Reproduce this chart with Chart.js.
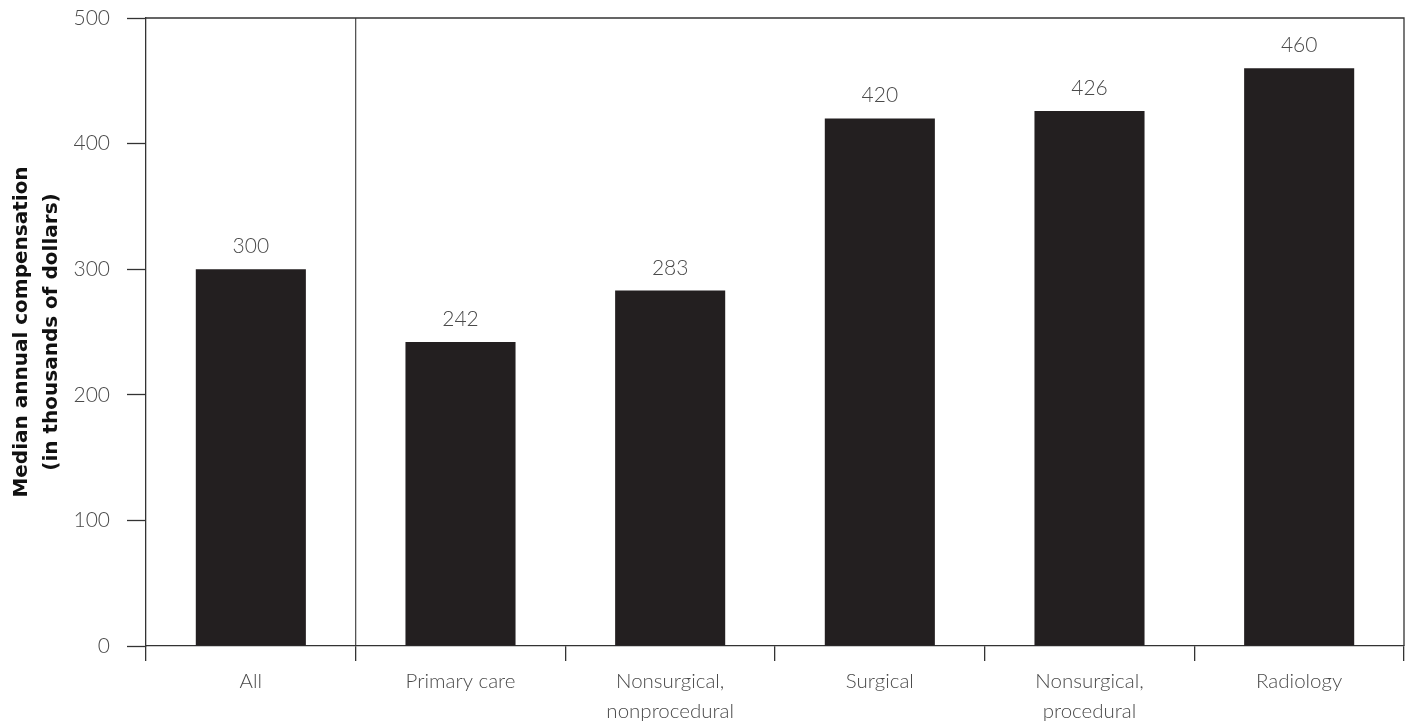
<!DOCTYPE html>
<html>
<head>
<meta charset="utf-8">
<script src="https://cdn.jsdelivr.net/npm/chart.js@4/dist/chart.umd.min.js"></script>
<style>
html,body{margin:0;padding:0;background:#fff;}
#wrap{width:1409px;height:723px;position:relative;}
</style>
</head>
<body>
<div id="wrap"><canvas id="c" width="1409" height="723"></canvas></div>
<script>
const categories = ["All", "Primary care", ["Nonsurgical,", "nonprocedural"], "Surgical", ["Nonsurgical,", "procedural"], "Radiology"];
const values = [300, 242, 283, 420, 426, 460];
const yTicks = [0, 100, 200, 300, 400, 500];
const yTitle = ["Median annual compensation", "(in thousands of dollars)"];

const FONT = "Lato, 'Open Sans', sans-serif";
const TXT = '#4a4a4a';
const LINE = '#555555';

const framePlugin = {
  id: 'frame',
  afterDatasetsDraw(chart) {
    const {ctx, chartArea: a} = chart;
    ctx.save();
    ctx.strokeStyle = '#333';
    ctx.lineWidth = 1.3;
    ctx.beginPath();
    ctx.moveTo(a.left, a.top);
    ctx.lineTo(a.right, a.top);
    ctx.lineTo(a.right, a.bottom);
    ctx.stroke();
    ctx.restore();
  }
};

const labelPlugin = {
  id: 'vals',
  afterDatasetsDraw(chart) {
    const {ctx} = chart;
    const meta = chart.getDatasetMeta(0);
    ctx.save();
    ctx.font = "300 21px " + FONT;
    ctx.fillStyle = TXT;
    ctx.textAlign = 'center';
    ctx.textBaseline = 'alphabetic';
    meta.data.forEach((bar, i) => {
      ctx.fillText(String(values[i]), bar.x, bar.y - 16);
    });
    ctx.restore();
  }
};

new Chart(document.getElementById('c'), {
  type: 'bar',
  data: {
    labels: categories,
    datasets: [{
      data: values,
      backgroundColor: '#231f20',
      borderWidth: 0,
      barPercentage: 0.525,
      categoryPercentage: 1.0
    }]
  },
  options: {
    responsive: false,
    animation: false,
    events: [],
    layout: { padding: { top: 18, right: 5, left: 0, bottom: 0 } },
    plugins: { legend: { display: false }, tooltip: { enabled: false } },
    scales: {
      x: {
        offset: true,
        border: { display: true, color: '#333', width: 1.3 },
        grid: {
          offset: true,
          drawOnChartArea: true,
          color: ctx => ctx.index === 1 ? LINE : 'rgba(0,0,0,0)',
          lineWidth: 1.3,
          tickColor: '#333',
          tickLength: 15,
          tickWidth: 1.3
        },
        ticks: {
          color: TXT,
          font: { family: FONT, size: 20.5, weight: '300', lineHeight: 1.45 },
          padding: 6,
          maxRotation: 0,
          autoSkip: false
        },
        afterFit(scale) { scale.height = 77; scale.paddingLeft = 0; scale.paddingRight = 0; }
      },
      y: {
        min: 0,
        max: 500,
        afterBuildTicks(scale) { scale.ticks = yTicks.map(v => ({ value: v })); },
        border: { display: true, color: '#333', width: 1.3 },
        grid: {
          drawOnChartArea: false,
          tickColor: '#333',
          tickLength: 19,
          tickWidth: 1.3
        },
        ticks: {
          color: TXT,
          font: { family: FONT, size: 21, weight: '300' },
          padding: 17
        },
        title: {
          display: true,
          text: yTitle,
          color: '#111',
          font: { family: "'DejaVu Sans', sans-serif", size: 20, weight: 'bold', lineHeight: 1.5 },
          padding: { top: 7, bottom: 0 }
        },
        afterFit(scale) { scale.width = 146; scale.paddingTop = 0; scale.paddingBottom = 0; }
      }
    }
  },
  plugins: [framePlugin, labelPlugin]
});
</script>
</body>
</html>
